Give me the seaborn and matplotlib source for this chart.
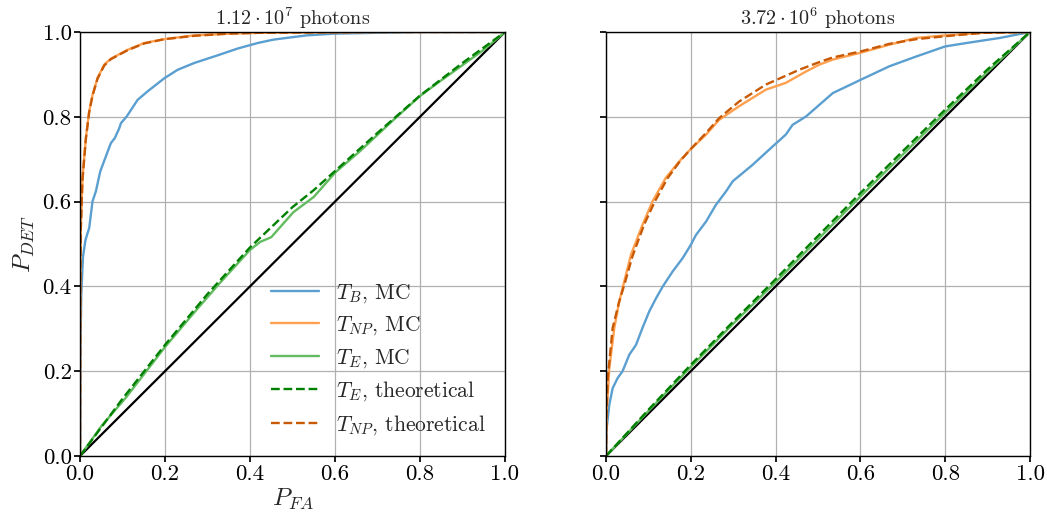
import numpy as np
import pandas as pd
import matplotlib
matplotlib.use("Agg")
import matplotlib.pyplot as plt
import seaborn as sns

# ---------------- data ----------------
titles = [r"$1.12\cdot10^{7}$ photons", r"$3.72\cdot10^{6}$ photons"]

# Left panel
L_tb_x = [0, 0.001, 0.003, 0.007, 0.013, 0.0217, 0.0295, 0.0373, 0.0476, 0.061, 0.0727, 0.082, 0.0924, 0.0963,
          0.11, 0.1356, 0.159, 0.1985, 0.23, 0.269, 0.324, 0.371, 0.418, 0.455, 0.533, 0.596, 0.69, 0.8, 1.0]
L_tb_y = [0, 0.25, 0.38, 0.47, 0.51, 0.538, 0.601, 0.624, 0.671, 0.707, 0.738, 0.75, 0.773, 0.785,
          0.801, 0.84, 0.86, 0.891, 0.911, 0.927, 0.945, 0.961, 0.974, 0.982, 0.992, 0.996, 0.998, 1.0, 1.0]

L_np_x = [0, 0.0005, 0.001, 0.0019, 0.0059, 0.0138, 0.0216, 0.0295, 0.0413, 0.057, 0.0727, 0.112, 0.151, 0.198,
          0.269, 0.348, 0.418, 0.55, 0.7, 1.0]
L_np_y = [0, 0.3, 0.45, 0.538, 0.656, 0.75, 0.813, 0.852, 0.892, 0.923, 0.937, 0.958, 0.974, 0.983,
          0.992, 0.996, 0.998, 0.999, 1.0, 1.0]
L_npt_x = [0, 0.0005, 0.001, 0.0019, 0.0059, 0.0138, 0.0216, 0.0295, 0.0413, 0.057, 0.0727, 0.112, 0.151, 0.198,
           0.269, 0.348, 0.418, 0.55, 0.7, 1.0]
L_npt_y = [0, 0.29, 0.44, 0.535, 0.652, 0.748, 0.811, 0.85, 0.89, 0.921, 0.936, 0.957, 0.973, 0.983,
           0.991, 0.996, 0.998, 0.999, 1.0, 1.0]

L_te_x = [0, 0.05, 0.109, 0.2, 0.27, 0.329, 0.4, 0.424, 0.45, 0.502, 0.55, 0.601, 0.66, 0.739, 0.80, 0.85, 0.896, 0.95, 1.0]
L_te_y = [0, 0.07, 0.139, 0.257, 0.34, 0.408, 0.486, 0.505, 0.516, 0.575, 0.611, 0.669, 0.72, 0.794, 0.849, 0.886, 0.919, 0.958, 1.0]
L_tet_x = [0, 0.1, 0.2, 0.3, 0.4, 0.5, 0.55, 0.6, 0.7, 0.8, 0.9, 1.0]
L_tet_y = [0, 0.135, 0.262, 0.382, 0.492, 0.587, 0.627, 0.672, 0.762, 0.850, 0.927, 1.0]

# Right panel
R_tb_x = [0, 0.0016, 0.0078, 0.0157, 0.0275, 0.039, 0.055, 0.0707, 0.086, 0.102, 0.118, 0.134, 0.157, 0.181, 0.2,
          0.212, 0.236, 0.259, 0.283, 0.299, 0.346, 0.393, 0.424, 0.44, 0.472, 0.503, 0.535, 0.6, 0.668, 0.731,
          0.8, 0.85, 0.929, 1.0]
R_tb_y = [0, 0.066, 0.121, 0.16, 0.184, 0.2, 0.239, 0.262, 0.302, 0.341, 0.372, 0.4, 0.435, 0.467, 0.498,
          0.521, 0.553, 0.592, 0.624, 0.648, 0.687, 0.730, 0.758, 0.781, 0.801, 0.828, 0.856, 0.887, 0.919, 0.942,
          0.966, 0.974, 0.986, 1.0]

R_np_x = [0, 0.0016, 0.0078, 0.0196, 0.0314, 0.043, 0.059, 0.0864, 0.11, 0.141, 0.173, 0.199, 0.236, 0.267, 0.314,
          0.377, 0.424, 0.472, 0.503, 0.535, 0.6, 0.668, 0.731, 0.8, 0.888, 1.0]
R_np_y = [0, 0.105, 0.207, 0.302, 0.365, 0.412, 0.475, 0.546, 0.601, 0.656, 0.695, 0.723, 0.758, 0.793, 0.825,
          0.864, 0.880, 0.907, 0.923, 0.935, 0.951, 0.97, 0.986, 0.992, 0.998, 1.0]
R_npt_x = [0, 0.001, 0.004, 0.0157, 0.03, 0.045, 0.062, 0.09, 0.115, 0.145, 0.175, 0.199, 0.236, 0.267, 0.314,
           0.377, 0.456, 0.503, 0.535, 0.6, 0.668, 0.731, 0.8, 0.888, 1.0]
R_npt_y = [0, 0.09, 0.183, 0.302, 0.36, 0.41, 0.47, 0.546, 0.6, 0.655, 0.696, 0.723, 0.762, 0.797, 0.836,
           0.876, 0.911, 0.929, 0.94, 0.954, 0.972, 0.983, 0.99, 0.998, 1.0]

R_te_x = [0, 0.1, 0.2, 0.3, 0.4, 0.5, 0.6, 0.7, 0.8, 0.9, 1.0]
R_te_y = [0, 0.106, 0.21, 0.312, 0.41, 0.511, 0.612, 0.711, 0.81, 0.906, 1.0]
R_tet_x = [0, 0.1, 0.2, 0.3, 0.4, 0.5, 0.6, 0.7, 0.8, 0.9, 1.0]
R_tet_y = [0, 0.109, 0.215, 0.317, 0.417, 0.519, 0.62, 0.719, 0.817, 0.912, 1.0]

diag = [0, 1]

labels = [r"$T_B$, MC", r"$T_{NP}$, MC", r"$T_E$, MC", r"$T_E$, theoretical", r"$T_{NP}$, theoretical"]
tick_vals = [0, 0.2, 0.4, 0.6, 0.8, 1.0]
tick_text = ["0.0", "0.2", "0.4", "0.6", "0.8", "1.0"]

# ---------------- style ----------------
sns.set_theme(style="whitegrid")
plt.rcParams.update({
    "font.family": ["cmr10", "DejaVu Serif"],
    "mathtext.fontset": "cm",
    "axes.formatter.use_mathtext": True,
    "axes.edgecolor": "black",
    "axes.linewidth": 1.0,
    "grid.color": "#b0b0b0",
    "grid.linewidth": 0.9,
    "xtick.bottom": True,
    "ytick.left": True,
    "xtick.color": "black",
    "ytick.color": "black",
    "xtick.major.size": 4,
    "ytick.major.size": 4,
    "font.size": 15,
})

c_blue = "#5a9fd0"
c_orange = "#ffa04f"
c_green = "#62bb5f"
c_gdash = "#008000"
c_odash = "#c85a05"

fig = plt.figure(figsize=(10.47, 5.16), dpi=100)
ax1 = fig.add_axes([80 / 1047, 60 / 516, 425 / 1047, 424 / 516])
ax2 = fig.add_axes([606 / 1047, 60 / 516, 424 / 1047, 424 / 516])

panels = [
    (ax1, L_tb_x, L_tb_y, L_np_x, L_np_y, L_te_x, L_te_y, L_tet_x, L_tet_y, L_npt_x, L_npt_y),
    (ax2, R_tb_x, R_tb_y, R_np_x, R_np_y, R_te_x, R_te_y, R_tet_x, R_tet_y, R_npt_x, R_npt_y),
]

for i, (ax, tbx, tby, npx, npy, tex, tey, tetx, tety, nptx, npty) in enumerate(panels):
    sns.lineplot(x=diag, y=diag, ax=ax, color="black", lw=1.6)
    sns.lineplot(x=tbx, y=tby, ax=ax, color=c_blue, lw=1.7, sort=False, estimator=None, label=labels[0])
    sns.lineplot(x=npx, y=npy, ax=ax, color=c_orange, lw=1.7, sort=False, estimator=None, label=labels[1])
    sns.lineplot(x=tex, y=tey, ax=ax, color=c_green, lw=1.7, sort=False, estimator=None, label=labels[2])
    sns.lineplot(x=tetx, y=tety, ax=ax, color=c_gdash, lw=1.7, ls="--", sort=False, estimator=None, label=labels[3])
    sns.lineplot(x=nptx, y=npty, ax=ax, color=c_odash, lw=1.7, ls="--", sort=False, estimator=None, label=labels[4])
    ax.set_xlim(0, 1)
    ax.set_ylim(0, 1)
    ax.set_xticks(tick_vals)
    ax.set_yticks(tick_vals)
    ax.set_xticklabels(tick_text)
    ax.set_title(titles[i], fontsize=14.5, pad=5)
    ax.tick_params(labelsize=16.5, pad=2)
    for s in ax.spines.values():
        s.set_color("black")
    if i == 0:
        ax.set_yticklabels(tick_text)
        ax.set_xlabel(r"$P_{FA}$", fontsize=18, labelpad=2)
        ax.set_ylabel(r"$P_{DET}$", fontsize=18, labelpad=4)
        ax.legend(loc="lower right", frameon=False, fontsize=15.5, handlelength=2.2,
                  bbox_to_anchor=(1.0, 0.0), labelspacing=0.45)
    else:
        ax.set_yticklabels([])
        ax.set_xlabel("")
        ax.set_ylabel("")
        leg = ax.get_legend()
        if leg is not None:
            leg.remove()

fig.savefig("out.png", dpi=100)
